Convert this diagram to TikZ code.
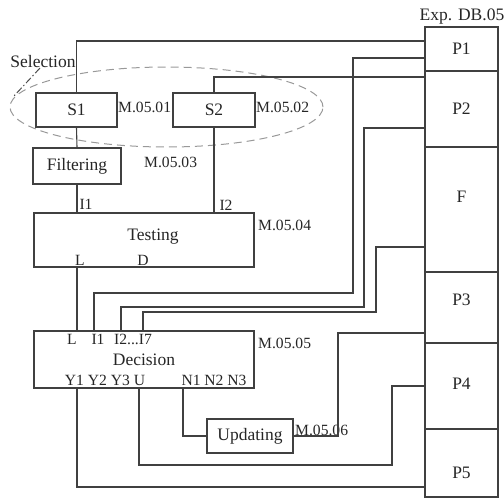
\documentclass[tikz,border=0pt]{standalone}
\usepackage{fontspec}
\setmainfont{Liberation Serif}
\usetikzlibrary{calc}
\begin{document}
\begin{tikzpicture}[x=1pt,y=-1pt,
  wire/.style={draw=black!75,line width=1.1pt},
  box/.style={draw=black!75,line width=1.1pt,rectangle,inner sep=0pt,text=black!85,font=\fontsize{17.5}{20}\selectfont},
  cell/.style={box,minimum width=73pt},
  mlab/.style={font=\fontsize{15.6}{18}\selectfont,inner sep=0pt,anchor=west,text=black!85},
  port/.style={font=\fontsize{15.6}{18}\selectfont,inner sep=0pt,text=black!85},
  big/.style={font=\fontsize{17.5}{20}\selectfont,inner sep=0pt,text=black!85},
  group/.style={draw=black!40,line width=1pt,dash pattern=on 8pt off 5pt},
  pointer/.style={draw=black!70,line width=1pt,dash pattern=on 7pt off 2.5pt on 1.5pt off 2.5pt}]
\useasboundingbox (0,0) rectangle (504,498);

% selection group
\draw[group] (166.5,107) ellipse [x radius=156.5pt, y radius=40pt];
\node[big] (sel) at (43,62) {Selection};
\coordinate (selA) at (40,68);
\coordinate (selB) at (14,96);
\draw[pointer] (selA) -- (selB);

% modules
\node[box,minimum width=81pt,minimum height=34pt] (s1) at (76.5,110) {S1};
\node[box,minimum width=82pt,minimum height=34pt] (s2) at (214,110) {S2};
\node[box,minimum width=88pt,minimum height=36pt] (filt) at (77,166) {Filtering};
\node[box,minimum width=220pt,minimum height=54pt] (test) at (144,240) {};
\node[big] (testT) at (153,237) {Testing};
\node[box,minimum width=220pt,minimum height=57pt] (dec) at (144,359.5) {Decision};
\node[box,minimum width=86pt,minimum height=34pt] (upd) at (250,436) {Updating};

% module ids
\node[mlab] (m1) at (118,107) {M.05.01};
\node[mlab] (m2) at (256,107) {M.05.02};
\node[mlab] (m3) at (144,162) {M.05.03};
\node[mlab] (m4) at (258,225) {M.05.04};
\node[mlab] (m5) at (258,343) {M.05.05};
\node[mlab] (m6) at (295,430) {M.05.06};

% ports
\node[port] (tI1) at (86,204) {I1};
\node[port] (tI2) at (226,205) {I2};
\node[port] (tL) at (80,260) {L};
\node[port] (tD) at (143,260) {D};
\node[port] (dL) at (72,339) {L};
\node[port] (dI1) at (98,339) {I1};
\node[port] (dI27) at (133,339) {I2...I7};
\node[port] (dY) at (105,380) {Y1 Y2 Y3 U};
\node[port] (dN) at (214,380) {N1 N2 N3};

% experiment database
\node[big] (dbT) at (462,17) {Exp. DB.05};
\node[cell,minimum height=44pt] (p1) at (461.5,49) {P1};
\node[cell,minimum height=76pt] (p2) at (461.5,109) {P2};
\node[cell,minimum height=125pt] (f) at (461.5,209.5) {};
\node[big] (fT) at (461.5,197) {F};
\node[cell,minimum height=71pt] (p3) at (461.5,307.5) {};
\node[big] (p3T) at (461.5,300) {P3};
\node[cell,minimum height=86pt] (p4) at (461.5,386) {};
\node[big] (p4T) at (461.5,384) {P4};
\node[cell,minimum height=68pt] (p5) at (461.5,463) {};
\node[big] (p5T) at (461.5,473) {P5};

% connection points
\coordinate (a1) at (425,41);
\coordinate (a2) at (425,77);
\coordinate (a3) at (425,58);
\coordinate (a4) at (425,128);
\coordinate (a5) at (425,247);
\coordinate (a6) at (425,333);
\coordinate (a7) at (425,386);
\coordinate (a8) at (425,487);
\coordinate (inL) at (77,331);
\coordinate (inI1) at (94,331);
\coordinate (inI2) at (121,331);
\coordinate (inI7) at (143,331);
\coordinate (outY) at (77,388);
\coordinate (outU) at (139,388);
\coordinate (outN) at (183,388);

% connectors
\draw[wire] (s1.north) |- (a1);
\draw[wire] (s2.north) |- (a2);
\draw[wire] (s1.south) -- (filt.north);
\draw[wire] (filt.south) -- (filt.south |- test.north);
\draw[wire] (s2.south) -- (s2.south |- test.north);
\draw[wire] (test.south -| inL) -- (inL);
\draw[wire] (a3) -| (353,293) -| (inI1);
\draw[wire] (a4) -| (364,307) -| (inI2);
\draw[wire] (a5) -| (376,312) -| (inI7);
\draw[wire] (outN) |- (upd.west);
\draw[wire] (upd.east) -| (338,333) -- (a6);
\draw[wire] (outU) |- (392,465) |- (a7);
\draw[wire] (outY) |- (a8);
\end{tikzpicture}
\end{document}
